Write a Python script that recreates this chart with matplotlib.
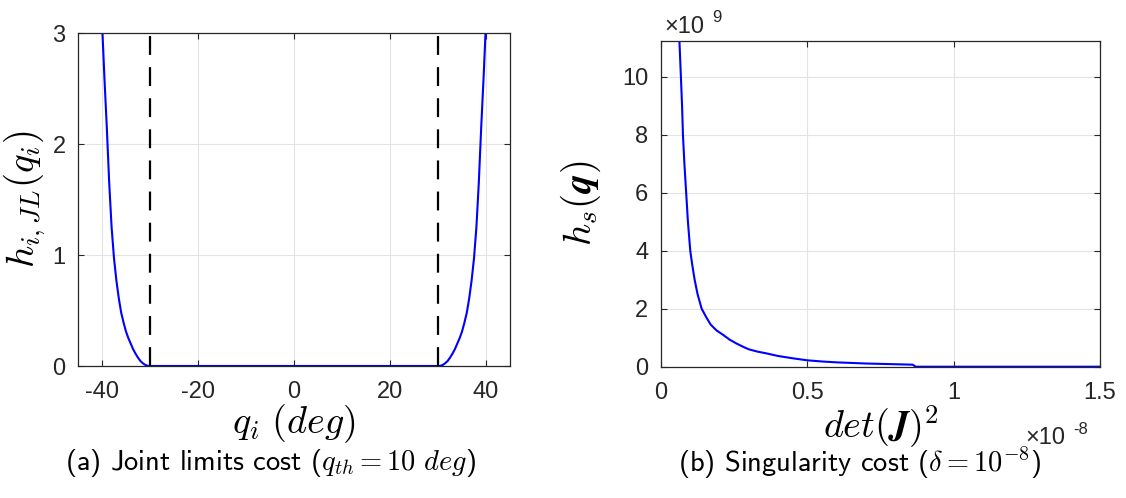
import numpy as np
import matplotlib
matplotlib.use("Agg")
import matplotlib.pyplot as plt

plt.rcParams['font.family'] = ['Liberation Sans', 'DejaVu Sans']
plt.rcParams['mathtext.fontset'] = 'cm'
plt.rcParams['axes.unicode_minus'] = False

# joint limits cost
q_left = [-40.2, -40.0, -39.5, -39.0, -38.5, -38.0, -37.5, -37.0, -36.5, -36.0, -35.5,
          -35.0, -34.5, -34.0, -33.5, -33.0, -32.5, -32.0, -31.5, -31.0, -30.5, -30.0]
h_left = [3.3, 3.1, 2.6, 2.15, 1.65, 1.25, 0.97, 0.77, 0.61, 0.48, 0.39,
          0.31, 0.25, 0.20, 0.15, 0.11, 0.075, 0.045, 0.025, 0.01, 0.002, 0.0]
q_right = [30.0, 30.5, 31.0, 31.5, 32.0, 32.5, 33.0, 33.5, 34.0, 34.5, 35.0,
           35.5, 36.0, 36.5, 37.0, 37.5, 38.0, 38.5, 39.0, 39.5, 40.0, 40.2]
h_right = [0.0, 0.002, 0.01, 0.025, 0.045, 0.075, 0.11, 0.15, 0.20, 0.25, 0.31,
           0.39, 0.48, 0.61, 0.77, 0.97, 1.25, 1.65, 2.15, 2.6, 3.1, 3.3]
q_limits = [-30, 30]

# singularity cost (x in 1e-8, y in 1e9)
det_e8 = [0.058, 0.063, 0.068, 0.072, 0.075, 0.080, 0.086, 0.092, 0.100, 0.107,
          0.115, 0.125, 0.139, 0.155, 0.170, 0.190, 0.212, 0.235, 0.258, 0.280,
          0.300, 0.330, 0.360, 0.400, 0.450, 0.500, 0.550, 0.600, 0.650, 0.700,
          0.780, 0.860, 0.870, 1.500]
hs_e9 = [12.0, 11.24, 10.0, 9.0, 8.0, 7.0, 6.0, 5.0, 4.0, 3.5,
         3.0, 2.5, 2.0, 1.7, 1.45, 1.25, 1.1, 0.93, 0.80, 0.69,
         0.60, 0.52, 0.46, 0.37, 0.29, 0.22, 0.18, 0.15, 0.13, 0.11,
         0.09, 0.07, 0.0, 0.0]

dark = (0.15, 0.15, 0.15)
W, H = 1126, 498
fig = plt.figure(figsize=(W / 100, H / 100), dpi=100)

def style(ax):
    ax.grid(True, color=(0.89, 0.89, 0.89), linewidth=0.8)
    ax.set_axisbelow(True)
    for s in ax.spines.values():
        s.set_color(dark)
        s.set_linewidth(0.9)
    ax.tick_params(direction='in', top=True, right=True, length=4, width=0.8,
                   colors=dark, labelsize=17)
    ax.tick_params(axis='x', pad=11)
    ax.tick_params(axis='y', pad=9)

ax1 = fig.add_axes([78 / W, 1 - 366 / H, 432 / W, 333 / H])
ax1.plot(q_left, h_left, color='blue', linewidth=1.5)
ax1.plot(q_limits, [0, 0], color='blue', linewidth=1.5)
ax1.plot(q_right, h_right, color='blue', linewidth=1.5)
for ql in q_limits:
    ax1.axvline(ql, color='black', linewidth=1.6, linestyle=(0, (8.5, 5.5)))
ax1.set_xlim(-45, 45)
ax1.set_ylim(0, 3)
ax1.set_xticks([-40, -20, 0, 20, 40])
ax1.set_yticks([0, 1, 2, 3])
style(ax1)
ax1.set_xlabel(r'$q_i\ (deg)$', fontsize=27.5, labelpad=-1)
ax1.set_ylabel(r'$h_{i,JL}(q_i)$', fontsize=28, labelpad=3)

ax2 = fig.add_axes([661 / W, 1 - 366.7 / H, 439 / W, 326 / H])
ax2.plot(det_e8, hs_e9, color='blue', linewidth=1.5)
ax2.set_xlim(0, 1.5)
ax2.set_ylim(0, 11.25)
ax2.set_xticks([0, 0.5, 1, 1.5])
ax2.set_xticklabels(['0', '0.5', '1', '1.5'])
ax2.set_yticks([0, 2, 4, 6, 8, 10])
style(ax2)
ax2.set_xlabel(r'$det(\boldsymbol{J})^2$', fontsize=27.5, labelpad=-1)
ax2.set_ylabel(r'$h_s(\boldsymbol{q})$', fontsize=28, labelpad=14)

# exponent labels
fig.text(664 / W, 1 - 27 / H, '\u00d710', fontsize=17, color=dark, va='center')
fig.text(712 / W, 1 - 17 / H, '9', fontsize=12, color=dark, va='center')
fig.text(1025 / W, 1 - 438 / H, '\u00d710', fontsize=17, color=dark, va='center')
fig.text(1073 / W, 1 - 429 / H, '-8', fontsize=12, color=dark, va='center')

# captions
fig.text(270 / W, 1 - 463 / H, r'(a) Joint limits cost ($q_{th} = 10\ deg$)',
         family='cmss10', fontsize=20.5, ha='center', va='center')
fig.text(860 / W, 1 - 463 / H, r'(b) Singularity cost ($\delta = 10^{-8}$)',
         family='cmss10', fontsize=20.5, ha='center', va='center')

fig.savefig('out.png', dpi=100)
